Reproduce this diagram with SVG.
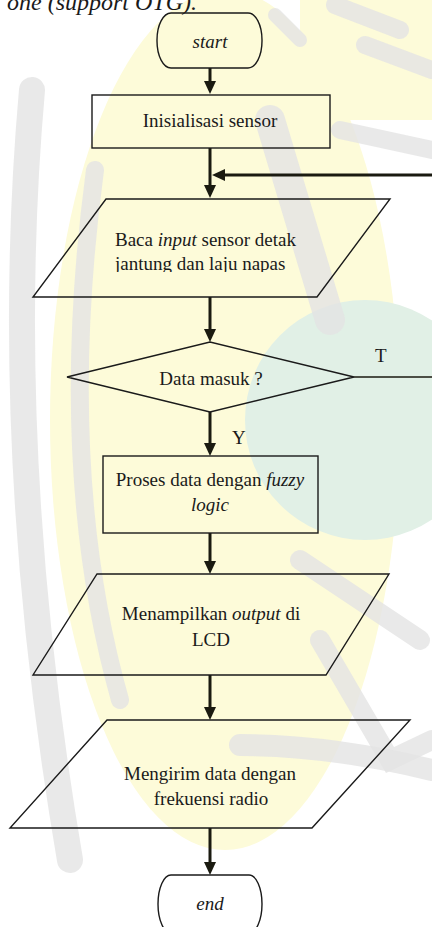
<svg xmlns="http://www.w3.org/2000/svg" width="432" height="927" viewBox="0 0 432 927">
<style>
.shape{fill:none;stroke:#1a1a1a;stroke-width:1.4}
.con{fill:none;stroke:#1a1a10;stroke-width:3}
.thin{fill:none;stroke:#1a1a10;stroke-width:1.3}
.t{font-family:"Liberation Serif","Times New Roman",serif;font-size:19px;fill:#1a1a1a}
.c{text-anchor:middle}
.i{font-style:italic}
.wm{fill:none;stroke:#e4e4e4;stroke-linecap:round;opacity:0.8}
</style>
<defs>
<marker id="ah" viewBox="0 0 13 12" refX="2" refY="6" markerWidth="13" markerHeight="12" markerUnits="userSpaceOnUse" orient="auto">
<path d="M0,0 L13,6 L0,12 z" fill="#1a1a10"/>
</marker>
<clipPath id="cp1"><rect x="0" y="200" width="432" height="72"/></clipPath>
<clipPath id="cp3"><rect x="0" y="722" width="432" height="85"/></clipPath>
</defs>
<g id="background">
<rect x="0" y="0" width="432" height="927" fill="#ffffff"/>
<ellipse cx="225" cy="420" rx="175" ry="430" fill="#fdfbd9"/>
<rect x="300" y="0" width="132" height="120" fill="#fdfbd9"/>
<circle cx="365" cy="420" r="120" fill="#e1f0e6"/>
<path class="wm" stroke-width="26" d="M32 90 Q0 450 70 860"/>
<path class="wm" stroke-width="18" d="M95 170 Q55 470 120 700"/>
<path class="wm" stroke-width="30" d="M270 120 Q300 220 330 320"/>
<path class="wm" stroke-width="14" d="M275 15 L300 40"/>
<path class="wm" stroke-width="18" d="M335 5 L400 30"/>
<path class="wm" stroke-width="18" d="M365 45 L432 70"/>
<path class="wm" stroke-width="18" d="M340 130 L432 150"/>
<path class="wm" stroke-width="20" d="M300 560 L420 640"/>
<path class="wm" stroke-width="20" d="M320 640 L390 760 L432 740"/>
<path class="wm" stroke-width="22" d="M240 745 Q330 745 432 770"/>
</g>
<text class="t i" x="197" y="10" text-anchor="end" style="font-size:24px">one (support OTG).</text>
<g id="connectors">
<line class="con" x1="210" y1="68" x2="210" y2="83" marker-end="url(#ah)"/>
<line class="con" x1="210" y1="148" x2="210" y2="187" marker-end="url(#ah)"/>
<line class="con" x1="432" y1="175" x2="223" y2="175" marker-end="url(#ah)"/>
<line class="con" x1="210" y1="297" x2="210" y2="331" marker-end="url(#ah)"/>
<line class="thin" x1="354" y1="377" x2="432" y2="377"/>
<line class="con" x1="210" y1="412" x2="210" y2="445" marker-end="url(#ah)"/>
<line class="con" x1="210" y1="533" x2="210" y2="563" marker-end="url(#ah)"/>
<line class="con" x1="210" y1="675" x2="210" y2="709" marker-end="url(#ah)"/>
<line class="con" x1="210" y1="828" x2="210" y2="864" marker-end="url(#ah)"/>
<text class="t" x="375" y="362">T</text>
<text class="t" x="232" y="444">Y</text>
</g>
<g id="start">
<rect class="shape" x="157" y="13" width="105" height="55" rx="14" ry="27"/>
<text class="t c i" x="210" y="48">start</text>
</g>
<g id="init">
<rect class="shape" x="92" y="95" width="238" height="53"/>
<text class="t c" x="210" y="127">Inisialisasi sensor</text>
</g>
<g id="read">
<polygon class="shape" points="106,199 390,199 317,297 33,297"/>
<text class="t" x="115" y="246">Baca <tspan class="i">input</tspan> sensor detak</text>
<text class="t" x="115" y="270" clip-path="url(#cp1)">jantung dan laju napas</text>
</g>
<g id="decision">
<polygon class="shape" points="67,377 210,342 354,377 210,412"/>
<text class="t c" x="211" y="385">Data masuk ?</text>
</g>
<g id="fuzzy">
<rect class="shape" x="103" y="456" width="215" height="77"/>
<text class="t c" x="210" y="486">Proses data dengan <tspan class="i">fuzzy</tspan></text>
<text class="t c i" x="210" y="511">logic</text>
</g>
<g id="display">
<polygon class="shape" points="97,574 389,574 326,675 33,675"/>
<text class="t c" x="211" y="620">Menampilkan <tspan class="i">output</tspan> di</text>
<text class="t c" x="211" y="646">LCD</text>
</g>
<g id="send">
<polygon class="shape" points="107,720 410,720 312,828 10,828"/>
<text class="t c" x="210" y="780">Mengirim data dengan</text>
<text class="t c" x="211" y="805" clip-path="url(#cp3)">frekuensi radio</text>
</g>
<g id="end">
<rect class="shape" x="158" y="875" width="104" height="58" rx="13" ry="29"/>
<text class="t c i" x="210" y="910">end</text>
</g>
</svg>
